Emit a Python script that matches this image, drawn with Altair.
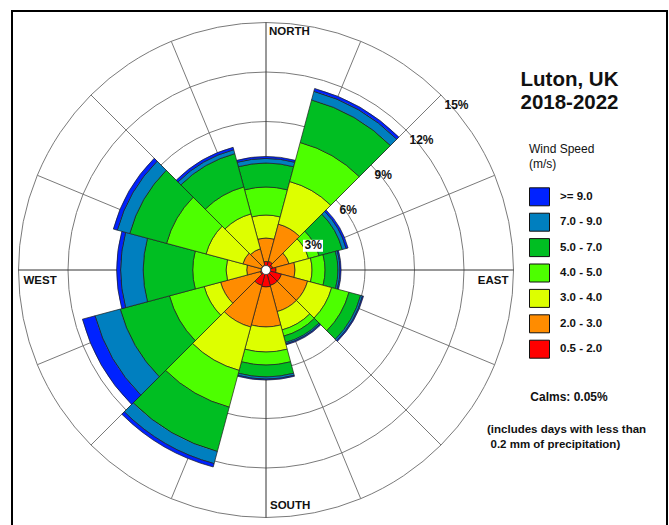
import altair as alt
import pandas as pd
import numpy as np

# ---------------- data ----------------
directions = [0, 30, 60, 90, 120, 150, 180, 210, 240, 270, 300, 330]
speed_bins = ["0.5 - 2.0", "2.0 - 3.0", "3.0 - 4.0", "4.0 - 5.0", "5.0 - 7.0", "7.0 - 9.0", ">= 9.0"]
bin_colors = ["#FF0000", "#FF8C00", "#DDFF00", "#4DFF00", "#00BE22", "#007FBF", "#0022FF"]

# frequency (%) of each speed class, per direction (same order as directions)
freq_05_20 = [0.52, 0.55, 0.42, 0.61, 0.97, 0.97, 1.03, 0.97, 0.36, 0.30, 0.30, 0.30]
freq_20_30 = [1.42, 2.33, 1.03, 1.15, 1.64, 1.64, 2.42, 2.61, 2.49, 0.87, 1.15, 1.03]
freq_30_40 = [1.39, 2.67, 1.22, 1.03, 1.51, 1.15, 1.52, 2.72, 1.03, 1.25, 2.31, 2.19]
freq_40_50 = [1.70, 2.45, 0.66, 0.79, 1.09, 0.39, 0.79, 2.31, 2.18, 2.02, 2.48, 1.69]
freq_50_70 = [1.45, 2.67, 1.46, 0.78, 0.73, 0.40, 0.72, 2.78, 3.09, 3.00, 2.31, 2.09]
freq_70_90 = [0.28, 0.54, 0.24, 0.12, 0.12, 0.09, 0.13, 0.76, 1.58, 1.37, 0.78, 0.25]
freq_90_up = [0.12, 0.18, 0.12, 0.07, 0.06, 0.06, 0.06, 0.21, 0.79, 0.24, 0.25, 0.15]
freq_lists = [freq_05_20, freq_20_30, freq_30_40, freq_40_50, freq_50_70, freq_70_90, freq_90_up]

ring_levels = [3, 6, 9, 12, 15]
ring_labels = ["3%", "6%", "9%", "12%", "15%"]
spoke_angles = [i * 22.5 for i in range(16)]

title_lines = ["Luton, UK", "2018-2022"]
legend_title = ["Wind Speed", "(m/s)"]
calms_text = "Calms: 0.05%"
note_lines = ["(includes days with less than", "0.2 mm of precipitation)"]

# ---------------- geometry ----------------
W, H = 669, 525
CX, CY = 266, 270
R_PX = 247.5          # radius of the 15 % ring
SECTOR = 30           # sector width in degrees
FONT = "Liberation Sans"

rscale = alt.Scale(type="linear", domain=[0, 15], range=[0, R_PX])
tscale = alt.Scale(type="linear", domain=[0, 360], range=[0, 2 * np.pi])
xscale = alt.Scale(domain=[-15, 15], range=[CX - R_PX, CX + R_PX])
yscale = alt.Scale(domain=[-15, 15], range=[CY + R_PX, CY - R_PX])

rows = []
for i, d in enumerate(directions):
    cum = 0.0
    for band, arr in zip(speed_bins, freq_lists):
        v = arr[i]
        rows.append(dict(direction=d, band=band, t0=d - SECTOR / 2, t1=d + SECTOR / 2,
                         r0=cum, r1=cum + v))
        cum += v
petal_df = pd.DataFrame(rows)

ring_df = pd.DataFrame({"r": ring_levels})
spoke_df = pd.DataFrame({
    "a": spoke_angles,
    "x0": 0.0, "y0": 0.0,
    "x1": [15 * np.sin(np.radians(a)) for a in spoke_angles],
    "y1": [15 * np.cos(np.radians(a)) for a in spoke_angles],
})
spoke_df["main"] = spoke_df["a"].isin([0, 90, 180, 270])
lab_df = pd.DataFrame({
    "label": ring_labels,
    "lx": [r * np.sin(np.radians(45)) for r in ring_levels],
    "ly": [r * np.cos(np.radians(45)) for r in ring_levels],
})

one = alt.Data(values=[{}])

# ---------------- layers ----------------
rings = alt.Chart(ring_df).mark_arc(fillOpacity=0, stroke="#7a7a7a", strokeWidth=1).encode(
    x=alt.value(CX), y=alt.value(CY),
    theta=alt.value(0), theta2=alt.value(2 * np.pi),
    radius=alt.Radius("r:Q", scale=rscale, stack=False),
)

spokes_minor = alt.Chart(spoke_df[~spoke_df["main"]]).mark_rule(color="#6a6a6a", strokeWidth=0.9).encode(
    x=alt.X("x0:Q", scale=xscale, axis=None), y=alt.Y("y0:Q", scale=yscale, axis=None),
    x2="x1:Q", y2="y1:Q",
)
spokes_main = alt.Chart(spoke_df[spoke_df["main"]]).mark_rule(color="#333333", strokeWidth=1).encode(
    x=alt.X("x0:Q", scale=xscale, axis=None), y=alt.Y("y0:Q", scale=yscale, axis=None),
    x2="x1:Q", y2="y1:Q",
)

legend_order = list(reversed(speed_bins))
legend_colors = list(reversed(bin_colors))

petals = alt.Chart(petal_df).mark_arc(stroke="#1e1e1e", strokeWidth=0.7).encode(
    x=alt.value(CX), y=alt.value(CY),
    theta=alt.Theta("t0:Q", scale=tscale, stack=False),
    theta2="t1:Q",
    radius=alt.Radius("r1:Q", scale=rscale, stack=False),
    radius2="r0:Q",
    color=alt.Color(
        "band:N",
        scale=alt.Scale(domain=legend_order, range=legend_colors),
        legend=alt.Legend(
            title=legend_title, orient="none", legendX=529, legendY=144,
            symbolType="M-1,-0.9L1,-0.9L1,0.9L-1,0.9Z", symbolSize=400,
            symbolStrokeColor="#111111", symbolStrokeWidth=1, symbolOpacity=1,
            labelFont=FONT, labelFontSize=11.5, labelFontWeight="bold", labelColor="#111111",
            titleFont=FONT, titleFontSize=12, titleFontWeight="normal", titleColor="#111111",
            titleLineHeight=15.3, titlePadding=15, rowPadding=2.4, labelOffset=10, padding=0,
        ),
    ),
)

hole = alt.Chart(one).mark_arc(fill="white", stroke="#333333", strokeWidth=0.8).encode(
    x=alt.value(CX), y=alt.value(CY),
    theta=alt.value(0), theta2=alt.value(2 * np.pi), radius=alt.value(4.5),
)

box3 = alt.Chart(lab_df[lab_df["label"] == "3%"]).mark_point(
    shape="M-1,-0.6L1,-0.6L1,0.6L-1,0.6Z", size=400, filled=True, fill="white",
    opacity=1, xOffset=12, yOffset=10.8,
).encode(
    x=alt.X("lx:Q", scale=xscale, axis=None), y=alt.Y("ly:Q", scale=yscale, axis=None),
)

ring_text = alt.Chart(lab_df).mark_text(
    align="left", baseline="middle", dx=3.5, dy=10, font=FONT, fontSize=12,
    fontWeight="bold", color="#111111",
).encode(
    x=alt.X("lx:Q", scale=xscale, axis=None), y=alt.Y("ly:Q", scale=yscale, axis=None),
    text="label:N",
)


def compass(label, cx, cy, align, dx, dy):
    df = pd.DataFrame({"cx": [cx], "cy": [cy], "t": [label]})
    return alt.Chart(df).mark_text(
        align=align, baseline="middle", dx=dx, dy=dy, font=FONT, fontSize=11.5,
        fontWeight="bold", color="#111111",
    ).encode(
        x=alt.X("cx:Q", scale=xscale, axis=None), y=alt.Y("cy:Q", scale=yscale, axis=None),
        text="t:N",
    )


comp = [
    compass("NORTH", 0, 15, "left", 3, 9.5),
    compass("SOUTH", 0, -15, "left", 4, -11.5),
    compass("WEST", -15, 0, "left", 5, 10.5),
    compass("EAST", 15, 0, "right", -5, 10.5),
]


def note(text, x, y, size, align="center", weight="bold"):
    return alt.Chart(one).mark_text(
        text=text, align=align, baseline="middle", font=FONT, fontSize=size,
        fontWeight=weight, color="#111111",
    ).encode(x=alt.value(x), y=alt.value(y))


texts = [
    note(title_lines[0], 569.5, 80, 20.5),
    note(title_lines[1], 569.5, 102.5, 20.5),
    note(calms_text, 569, 397, 12),
    note(note_lines[0], 487, 430, 11.5, align="left"),
    note(note_lines[1], 490.5, 444.5, 11.5, align="left"),
]

frame = alt.Chart(one).mark_rect(fillOpacity=0, stroke="#000000", strokeWidth=2).encode(
    x=alt.value(12), x2=alt.value(667), y=alt.value(11), y2=alt.value(560),
)

chart = alt.layer(
    rings, spokes_minor, spokes_main, petals, hole, box3, ring_text, *comp, *texts, frame
).properties(
    width=W, height=H, autosize=alt.AutoSizeParams(type="none"), padding=0,
    background="white",
).configure_view(strokeWidth=0)

chart.save("out.html", embed_options={"renderer": "svg", "actions": False})
